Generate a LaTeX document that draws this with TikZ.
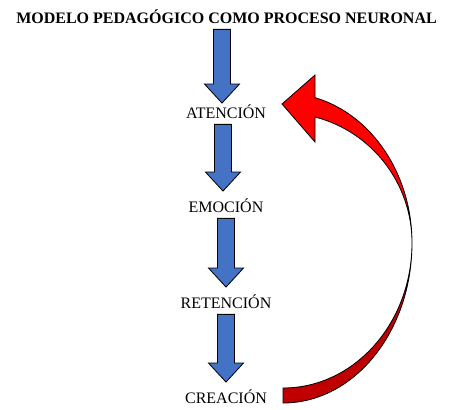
\documentclass[tikz,border=0pt]{standalone}
\usepackage{fontspec}
\setmainfont{Liberation Serif}
\usetikzlibrary{calc}
\definecolor{arrowblue}{HTML}{4472C4}
\definecolor{loopred}{HTML}{FF0000}
\definecolor{loopdark}{HTML}{C00000}
\tikzset{
    stage/.style={font=\fontsize{16}{19}\selectfont,inner sep=0pt,anchor=base},
    bluearrow/.style={fill=arrowblue,draw=black,line width=0.8pt},
    redfront/.style={fill=loopred,draw=black,line width=0.8pt},
    redback/.style={fill=loopdark,draw=black,line width=0.8pt}
}
\newcommand{\blockdown}[4]{%
    \draw[bluearrow] let \p1=(#1.south), \p2=(#2.north) in
        ({\x2+#4pt-8.5pt},{\y1-6pt}) -- ({\x2+#4pt+8.5pt},{\y1-6pt})
        -- ({\x2+#4pt+8.5pt},{\y2+#3pt+19pt}) -- ({\x2+#4pt+17.5pt},{\y2+#3pt+19pt})
        -- ({\x2+#4pt},{\y2+#3pt}) -- ({\x2+#4pt-17.5pt},{\y2+#3pt+19pt})
        -- ({\x2+#4pt-8.5pt},{\y2+#3pt+19pt}) -- cycle;}
\begin{document}
\begin{tikzpicture}[x=1pt,y=-1pt]
                \useasboundingbox (0,0) rectangle (461,410);
                \node[stage,font=\fontsize{16}{19}\selectfont\bfseries] (title) at (226.5,23) {MODELO PEDAGÓGICO COMO PROCESO NEURONAL};
                \node[stage] (aten) at (226,118) {ATENCIÓN};
                \node[stage] (emo) at (226,212) {EMOCIÓN};
                \node[stage] (ret) at (226,308) {RETENCIÓN};
                \node[stage] (crea) at (226,403) {CREACIÓN};
                \blockdown{title}{aten}{1}{-4}
                \blockdown{aten}{emo}{7}{-3}
                \blockdown{emo}{ret}{7}{0}
                \blockdown{ret}{crea}{7}{0}
                \draw[redback](412,243) arc[start angle=0,end angle=-90,x radius=129pt,y radius=160pt]
                    -- ++(0,-15) arc[start angle=-90,end angle=0,x radius=129pt,y radius=145pt] -- cycle;
                \draw[redfront](315,98) -- (315,75) -- (282,104) -- (315,142) -- (315,117)
                    arc[start angle=75.64,end angle=0,x radius=129pt,y radius=130pt]
                    arc[start angle=0,end angle=75.64,x radius=129pt,y radius=150pt] -- cycle;
            \end{tikzpicture}
\end{document}
